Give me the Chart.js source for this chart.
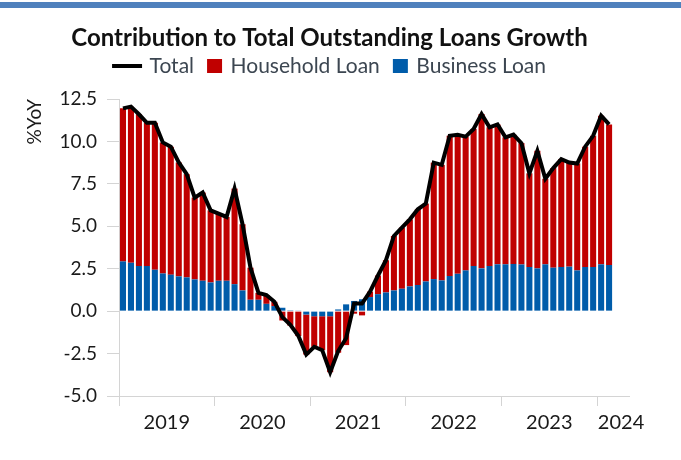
<!DOCTYPE html>
<html><head><meta charset="utf-8">
<script src="https://cdn.jsdelivr.net/npm/chart.js@4.4.1/dist/chart.umd.min.js"></script>
<style>
html,body{margin:0;padding:0;background:#fff;}
#wrap{position:relative;width:681px;height:460px;overflow:hidden;background:#fff;}
#band{position:absolute;left:0;top:2px;width:681px;height:6px;background:#4f81bd;}
#c{position:absolute;left:0;top:0;}
</style></head><body>
<div id="wrap"><div id="band"></div><canvas id="c" width="681" height="460"></canvas></div>
<script>
// ---- data ----
const months = [
 '2019-01','2019-02','2019-03','2019-04','2019-05','2019-06','2019-07','2019-08','2019-09','2019-10','2019-11','2019-12',
 '2020-01','2020-02','2020-03','2020-04','2020-05','2020-06','2020-07','2020-08','2020-09','2020-10','2020-11','2020-12',
 '2021-01','2021-02','2021-03','2021-04','2021-05','2021-06','2021-07','2021-08','2021-09','2021-10','2021-11','2021-12',
 '2022-01','2022-02','2022-03','2022-04','2022-05','2022-06','2022-07','2022-08','2022-09','2022-10','2022-11','2022-12',
 '2023-01','2023-02','2023-03','2023-04','2023-05','2023-06','2023-07','2023-08','2023-09','2023-10','2023-11','2023-12',
 '2024-01','2024-02'];
const yearLabels = ['2019','2020','2021','2022','2023','2024'];
const businessLoan = [
 2.93,2.85,2.66,2.66,2.44,2.22,2.15,2.05,1.99,1.87,1.79,1.69,
 1.79,1.79,1.59,1.22,0.67,0.67,0.43,0.30,0.20,0.05,0.02,-0.20,
 -0.30,-0.30,-0.30,0.10,0.40,0.60,0.70,0.83,1.00,1.10,1.22,1.32,
 1.46,1.54,1.75,1.89,1.81,2.07,2.20,2.40,2.66,2.52,2.66,2.76,
 2.76,2.78,2.75,2.60,2.52,2.76,2.56,2.60,2.62,2.40,2.60,2.60,
 2.76,2.72];
const householdLoan = [
 9.02,9.20,8.94,8.44,8.66,7.72,7.54,6.71,6.08,4.82,5.20,4.25,
 3.96,3.76,5.63,3.90,1.89,0.41,0.52,0.25,-0.55,-0.85,-1.47,-2.36,
 -1.80,-2.00,-3.30,-2.45,-2.00,-0.15,-0.25,0.32,1.10,1.90,3.21,3.60,
 3.95,4.46,4.59,6.86,6.81,8.26,8.19,7.88,8.07,9.09,8.17,8.24,
 7.48,7.62,7.15,5.52,6.93,5.04,5.87,6.36,6.14,6.30,7.09,7.73,
 8.76,8.28];
const totalGrowth = [
 11.95,12.05,11.60,11.10,11.10,9.94,9.69,8.76,8.07,6.69,6.99,5.94,
 5.75,5.55,7.22,5.12,2.56,1.08,0.95,0.55,-0.35,-0.80,-1.45,-2.56,
 -2.10,-2.30,-3.60,-2.35,-1.60,0.45,0.45,1.15,2.10,3.00,4.43,4.92,
 5.41,6.00,6.34,8.75,8.62,10.33,10.39,10.28,10.73,11.61,10.83,11.00,
 10.24,10.40,9.90,8.12,9.45,7.80,8.43,8.96,8.76,8.70,9.69,10.33,
 11.52,11.00];

// ---- styling ----
const RED = '#c00000', BLUE = '#005caa', AXIS = '#d4d4d4', LEG = '#3c4651';
const FONT = 'Lato';

function swatch(w, h, offX, drawW, color) {
  const c = document.createElement('canvas');
  c.width = w; c.height = h;
  const g = c.getContext('2d');
  g.fillStyle = color; g.fillRect(offX, 0, drawW, h);
  return c;
}
const lineMark = swatch(34, 4, 3, 30, '#000');
const redMark = swatch(32, 14, 16, 15, RED);
const blueMark = swatch(32, 14, 16, 15, BLUE);

// year boundaries / label positions derived from months
const boundaries = [], centers = [];
yearLabels.forEach((y) => {
  const first = months.findIndex(m => m.startsWith(y));
  boundaries.push(first - 0.5);
});
yearLabels.forEach((y, k) => {
  const start = boundaries[k];
  const end = k + 1 < boundaries.length ? boundaries[k + 1] : start + 6;
  centers.push((start + end) / 2);
});
const X_MIN = -0.5, X_MAX = months.length + 1.5;

const pts = arr => arr.map((v, i) => ({x: i, y: v}));

new Chart(document.getElementById('c'), {
  type: 'bar',
  data: {
    datasets: [
      {type: 'line', label: 'Total', data: pts(totalGrowth), borderColor: '#000', backgroundColor: '#000',
       borderWidth: 4, pointRadius: 0, tension: 0, stack: 'total', order: 0},
      {label: 'Household Loan', data: pts(householdLoan), backgroundColor: RED, order: 2,
       categoryPercentage: 1, barPercentage: 0.76},
      {label: 'Business Loan', data: pts(businessLoan), backgroundColor: BLUE, order: 1,
       categoryPercentage: 1, barPercentage: 0.76}
    ]
  },
  options: {
    responsive: false,
    animation: false,
    layout: {padding: {left: 0, right: 22, top: 0, bottom: 0}},
    plugins: {
      tooltip: {enabled: false},
      title: {
        display: true,
        text: 'Contribution to Total Outstanding Loans Growth',
        color: '#111',
        font: {family: FONT, size: 24, weight: 'bold', lineHeight: 0.6},
        padding: {top: 30.8, bottom: 10.6}
      },
      legend: {
        display: true,
        labels: {
          font: {family: FONT, size: 21},
          color: LEG,
          usePointStyle: true,
          pointStyleWidth: 26,
          padding: 0,
          generateLabels: () => [
            {text: 'Total', pointStyle: lineMark, fillStyle: '#000', strokeStyle: '#000', lineWidth: 0, hidden: false, datasetIndex: 0, fontColor: LEG},
            {text: 'Household Loan', pointStyle: redMark, fillStyle: RED, strokeStyle: RED, lineWidth: 0, hidden: false, datasetIndex: 1, fontColor: LEG},
            {text: 'Business Loan', pointStyle: blueMark, fillStyle: BLUE, strokeStyle: BLUE, lineWidth: 0, hidden: false, datasetIndex: 2, fontColor: LEG}
          ]
        }
      }
    },
    scales: {
      x: {
        type: 'linear', position: 'bottom', stacked: true, offset: false,
        min: X_MIN, max: X_MAX,
        grid: {display: true, drawOnChartArea: false, drawTicks: true, tickLength: 10, offset: false,
               tickColor: c => (c.tick && boundaries.includes(c.tick.value)) ? AXIS : 'rgba(0,0,0,0)',
               color: 'rgba(0,0,0,0)'},
        border: {display: true, color: AXIS, width: 1},
        afterBuildTicks: s => {
          s.ticks = boundaries.concat(centers).sort((a, b) => a - b).map(v => ({value: v}));
        },
        ticks: {
          autoSkip: false, maxRotation: 0, padding: 5, color: '#1a1a1a',
          font: {family: FONT, size: 20},
          callback: v => { const k = centers.indexOf(v); return k >= 0 ? yearLabels[k] : ''; }
        },
        afterFit: s => { s.height = 64; }
      },
      xTop: {
        type: 'linear', position: 'top', display: true,
        grid: {display: false}, border: {display: false}, ticks: {display: false},
        afterFit: s => { s.height = 12.2; }
      },
      y: {
        type: 'linear', position: 'left', stacked: true,
        min: -5, max: 12.5,
        grid: {display: true, drawOnChartArea: false, drawTicks: true, tickLength: 12, tickColor: AXIS, color: AXIS},
        border: {display: true, color: AXIS, width: 1},
        ticks: {stepSize: 2.5, padding: 10, color: '#1a1a1a', font: {family: FONT, size: 19},
                callback: v => Number(v).toFixed(1)},
        title: {display: true, text: '%YoY', align: 'end', color: '#1a1a1a',
                font: {family: FONT, size: 19}, padding: {top: 23.3, bottom: 0}},
        afterFit: s => { s.width = 119; }
      },
      yRight: {
        type: 'linear', position: 'right', display: true,
        grid: {display: false}, border: {display: false}, ticks: {display: false},
        afterFit: s => { s.width = 30; }
      }
    }
  }
});
</script>
</body></html>
